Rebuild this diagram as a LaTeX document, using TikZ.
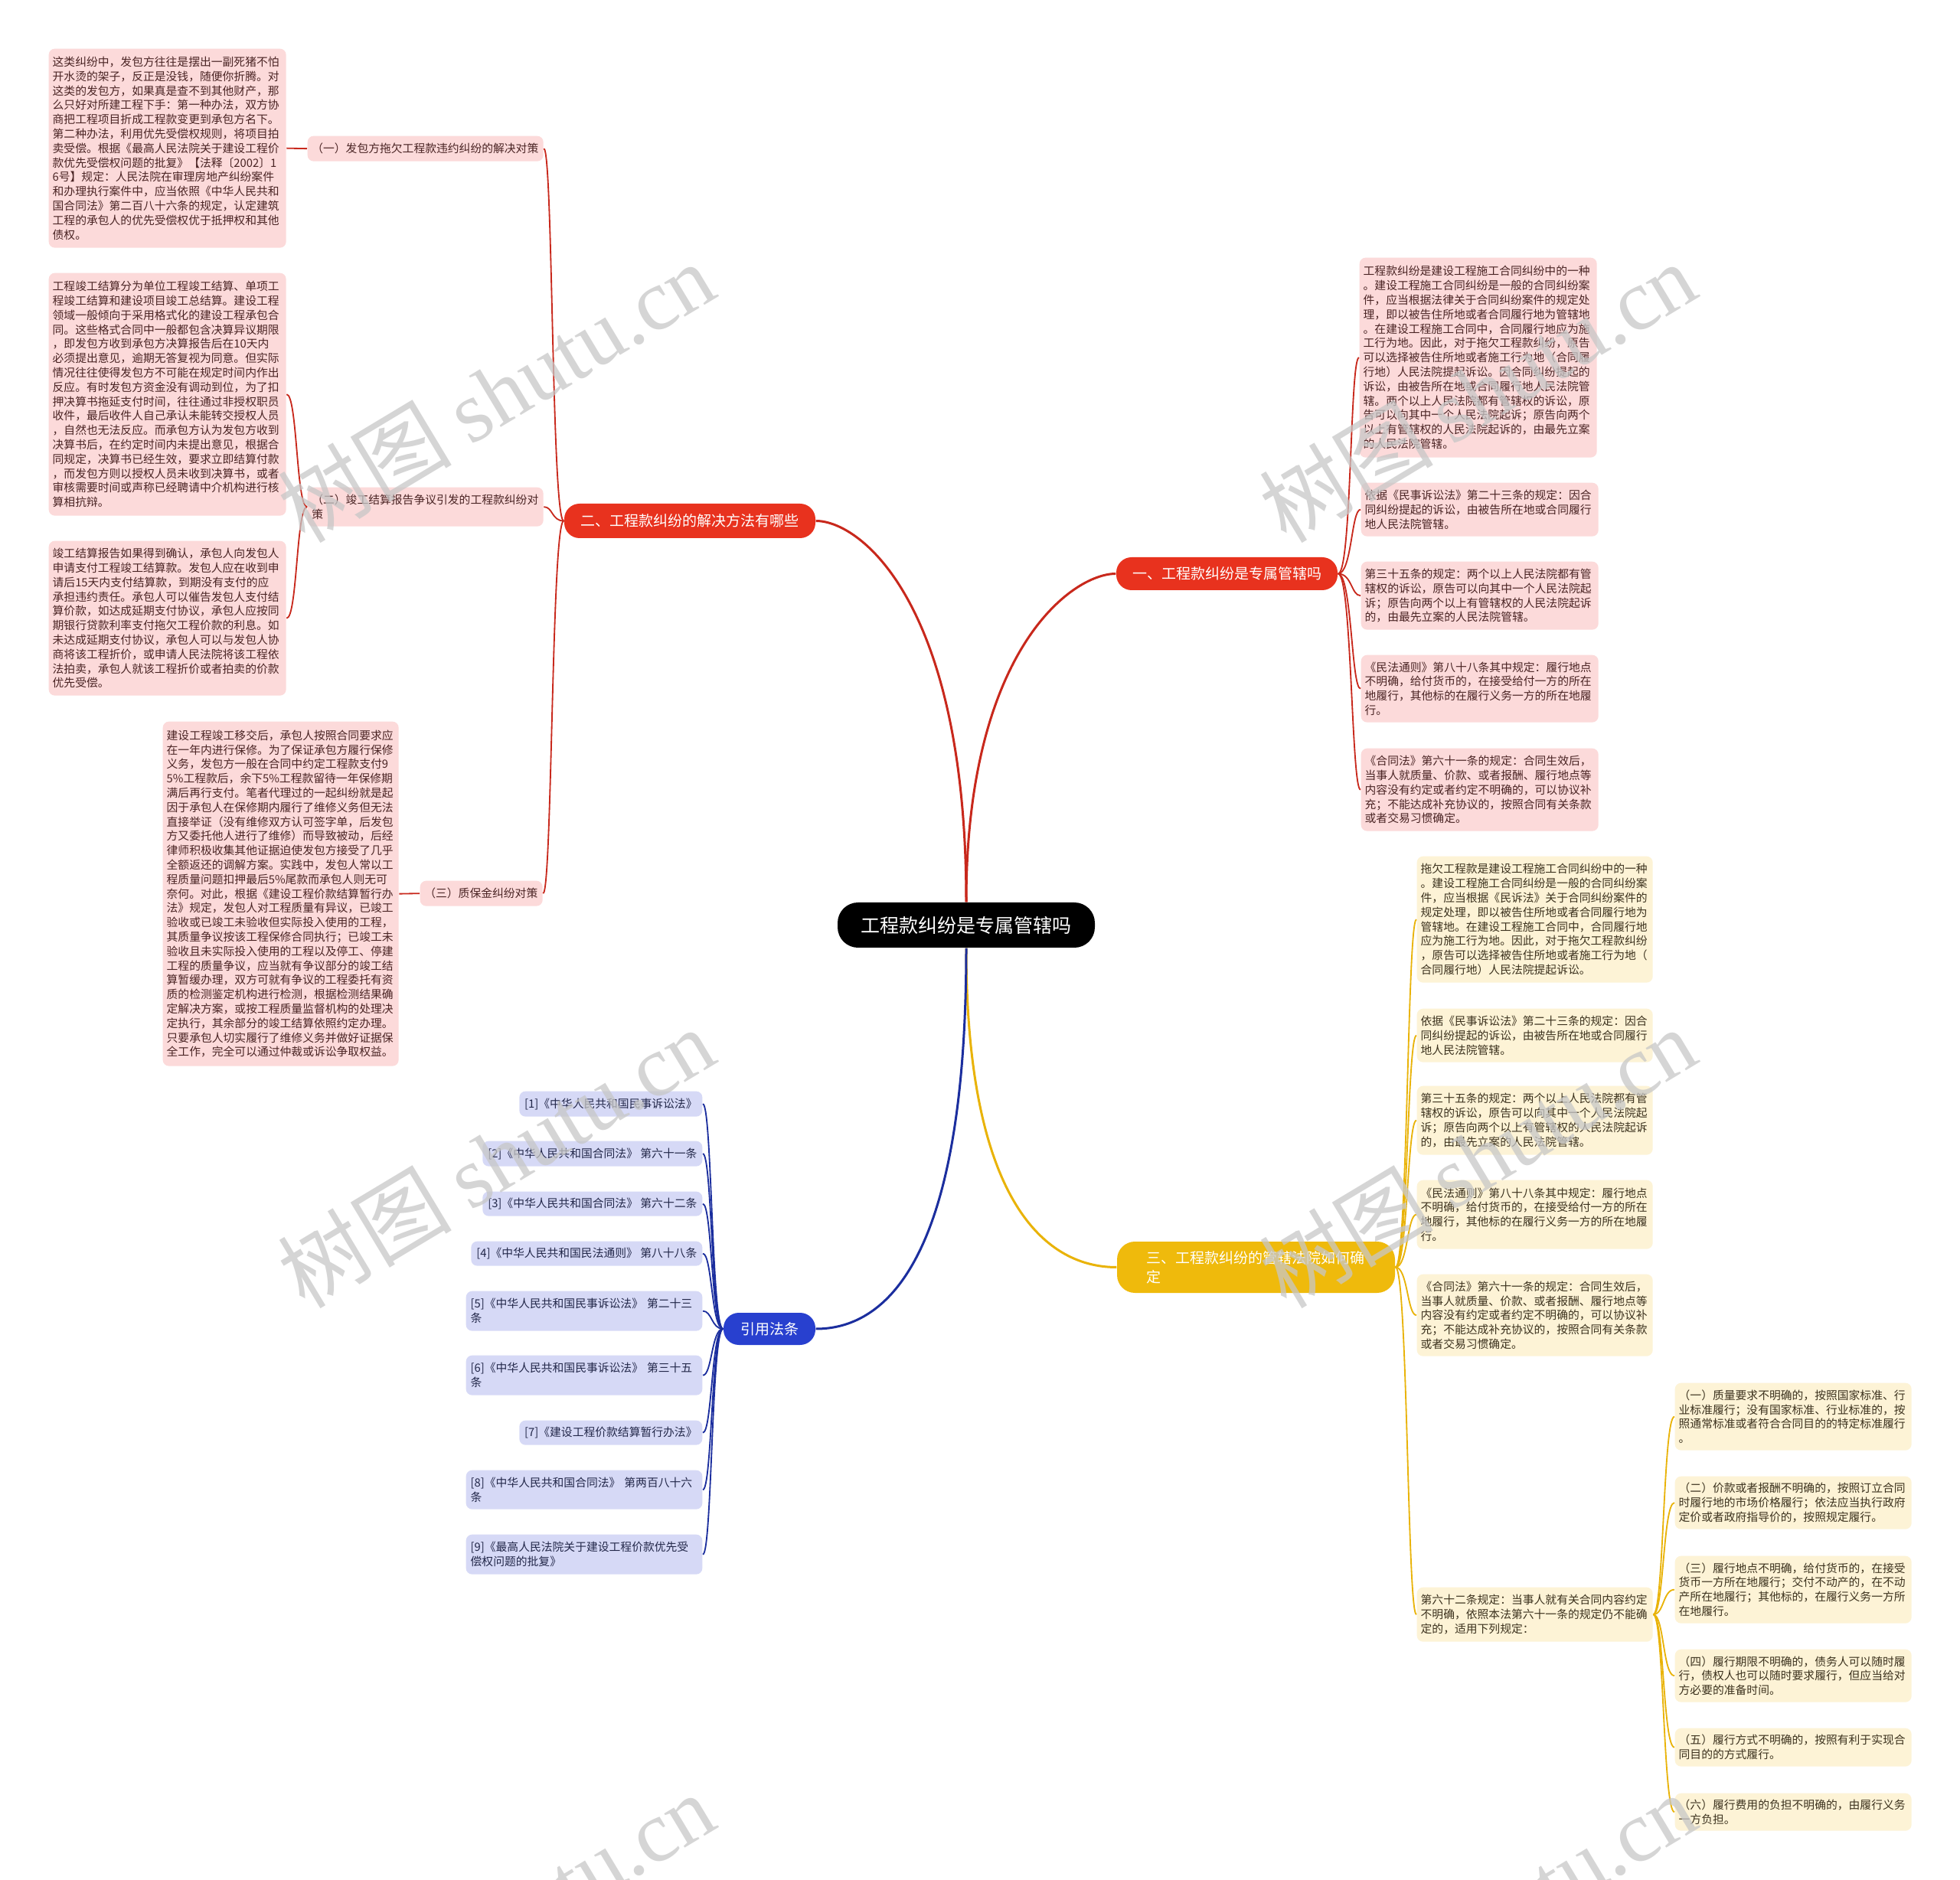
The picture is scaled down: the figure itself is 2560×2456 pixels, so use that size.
\documentclass[tikz,border=0pt]{standalone}
\usepackage{fontspec}
\setmainfont{Noto Sans CJK SC}
\newfontfamily\wmlat{Liberation Serif}
\definecolor{redline}{HTML}{C8281C}
\definecolor{redfill}{HTML}{E8321E}
\definecolor{pinkfill}{HTML}{FCDADA}
\definecolor{pinktext}{HTML}{4A2424}
\definecolor{yelline}{HTML}{E9B308}
\definecolor{yelfill}{HTML}{EFBA0C}
\definecolor{creamfill}{HTML}{FDF3D6}
\definecolor{creamtext}{HTML}{3C321E}
\definecolor{blueline}{HTML}{1B2E9E}
\definecolor{bluefill}{HTML}{2840CF}
\definecolor{lavfill}{HTML}{D6D9F6}
\definecolor{lavtext}{HTML}{23284A}
\newcommand\leaffont{\fontsize{4.44pt}{5.64pt}\selectfont}
\newcommand{\mytxtb}{依据《民事诉讼法》第二十三条的规定：因合\\同纠纷提起的诉讼，由被告所在地或合同履行\\地人民法院管辖。}
\newcommand{\mytxtc}{第三十五条的规定：两个以上人民法院都有管\\辖权的诉讼，原告可以向其中一个人民法院起\\诉；原告向两个以上有管辖权的人民法院起诉\\的，由最先立案的人民法院管辖。}
\newcommand{\mytxtd}{《民法通则》第八十八条其中规定：履行地点\\不明确，给付货币的，在接受给付一方的所在\\地履行，其他标的在履行义务一方的所在地履\\行。}
\newcommand{\mytxte}{《合同法》第六十一条的规定：合同生效后，\\当事人就质量、价款、或者报酬、履行地点等\\内容没有约定或者约定不明确的，可以协议补\\充；不能达成补充协议的，按照合同有关条款\\或者交易习惯确定。}
\tikzset{
  leaf/.style={rounded corners=2.4pt, text width=90pt, inner xsep=1.5pt, inner ysep=0pt, align=left, font=\leaffont, anchor=north west},
  pinkleaf/.style={leaf, fill=pinkfill, text=pinktext},
  creamleaf/.style={leaf, fill=creamfill, text=creamtext},
  refleaf/.style={rounded corners=2.4pt, inner xsep=1.8pt, inner ysep=0pt, font=\leaffont, anchor=north east, fill=lavfill, text=lavtext},
  branchnode/.style={text=white, inner sep=0pt, font=\fontsize{5.7pt}{7.35pt}\selectfont},
  redmain/.style={draw=redline, line width=0.9pt},
  yelmain/.style={draw=yelline, line width=0.9pt},
  bluemain/.style={draw=blueline, line width=0.9pt},
  redthin/.style={draw=redline, line width=0.55pt},
  yelthin/.style={draw=yelline, line width=0.55pt},
  bluethin/.style={draw=blueline, line width=0.55pt},
  wmark/.style={rotate=31, text=black!22, opacity=0.75, font=\fontsize{34pt}{34pt}\selectfont}
}
\begin{document}
\begin{tikzpicture}[x=0.3pt,y=-0.3pt]
\useasboundingbox (0,0) rectangle (2560,2456);
\fill[white] (0,0) rectangle (2560,2456);

% center
\node[fill=black, text=white, rounded corners=8pt, minimum width=100.8pt, minimum height=17.7pt, inner sep=0pt, font=\fontsize{7.5pt}{9pt}\selectfont] (c) at (1262,1208.5) {工程款纠纷是专属管辖吗};

% branches
\node[branchnode, fill=redfill, rounded corners=6pt, minimum width=86.7pt, minimum height=12.9pt] (b1) at (1602.5,749.5) {一、工程款纠纷是专属管辖吗};
\node[branchnode, fill=redfill, rounded corners=6pt, minimum width=98.4pt, minimum height=13.5pt] (b2) at (901,680.5) {二、工程款纠纷的解决方法有哪些};
\node[branchnode, fill=yelfill, rounded corners=7pt, minimum width=108.9pt, minimum height=20.1pt, text width=86pt, align=left] (b3) at (1640.5,1655.5) {三、工程款纠纷的管辖法院如何确\\定};
\node[branchnode, fill=bluefill, rounded corners=6pt, minimum width=36pt, minimum height=12.6pt] (b4) at (1005,1736) {引用法条};

% branch 1 leaves
\node[pinkleaf, minimum height=78.3pt] (l1a) at (1775,336) {工程款纠纷是建设工程施工合同纠纷中的一种\\。建设工程施工合同纠纷是一般的合同纠纷案\\件，应当根据法律关于合同纠纷案件的规定处\\理，即以被告住所地或者合同履行地为管辖地\\。在建设工程施工合同中，合同履行地应为施\\工行为地。因此，对于拖欠工程款纠纷，原告\\可以选择被告住所地或者施工行为地（合同履\\行地）人民法院提起诉讼。因合同纠纷提起的\\诉讼，由被告所在地或合同履行地人民法院管\\辖。两个以上人民法院都有管辖权的诉讼，原\\告可以向其中一个人民法院起诉；原告向两个\\以上有管辖权的人民法院起诉的，由最先立案\\的人民法院管辖。};
\node[pinkleaf, minimum height=21pt] (l1b) at (1777,630) {\mytxtb};
\node[pinkleaf, minimum height=26.7pt] (l1c) at (1777,733) {\mytxtc};
\node[pinkleaf, minimum height=26.4pt] (l1d) at (1777,855) {\mytxtd};
\node[pinkleaf, minimum height=32.4pt] (l1e) at (1777,977) {\mytxte};

% branch 2 subtopics
\node[pinkleaf, text width=89pt, inner xsep=1.7pt, minimum height=9.9pt] (s1) at (401,177) {（一）发包方拖欠工程款违约纠纷的解决对策};
\node[pinkleaf, text width=89pt, inner xsep=1.7pt, minimum height=15.3pt] (s2) at (401,636) {（二）竣工结算报告争议引发的工程款纠纷对\\策};
\node[pinkleaf, text width=44.6pt, inner xsep=1.7pt, minimum height=9.9pt] (s3) at (548,1150) {（三）质保金纠纷对策};

% branch 2 leaves
\node[pinkleaf, minimum height=78pt] (la) at (63,63) {这类纠纷中，发包方往往是摆出一副死猪不怕\\开水烫的架子，反正是没钱，随便你折腾。对\\这类的发包方，如果真是查不到其他财产，那\\么只好对所建工程下手：第一种办法，双方协\\商把工程项目折成工程款变更到承包方名下。\\第二种办法，利用优先受偿权规则，将项目拍\\卖受偿。根据《最高人民法院关于建设工程价\\款优先受偿权问题的批复》【法释〔2002〕1\\6号】规定：人民法院在审理房地产纠纷案件\\和办理执行案件中，应当依照《中华人民共和\\国合同法》第二百八十六条的规定，认定建筑\\工程的承包人的优先受偿权优于抵押权和其他\\债权。};
\node[pinkleaf, minimum height=95.1pt] (lb1) at (63,356) {工程竣工结算分为单位工程竣工结算、单项工\\程竣工结算和建设项目竣工总结算。建设工程\\领域一般倾向于采用格式化的建设工程承包合\\同。这些格式合同中一般都包含决算异议期限\\，即发包方收到承包方决算报告后在10天内\\必须提出意见，逾期无答复视为同意。但实际\\情况往往使得发包方不可能在规定时间内作出\\反应。有时发包方资金没有调动到位，为了扣\\押决算书拖延支付时间，往往通过非授权职员\\收件，最后收件人自己承认未能转交授权人员\\，自然也无法反应。而承包方认为发包方收到\\决算书后，在约定时间内未提出意见，根据合\\同规定，决算书已经生效，要求立即结算付款\\，而发包方则以授权人员未收到决算书，或者\\审核需要时间或声称已经聘请中介机构进行核\\算相抗辩。};
\node[pinkleaf, minimum height=60.6pt] (lb2) at (63,706) {竣工结算报告如果得到确认，承包人向发包人\\申请支付工程竣工结算款。发包人应在收到申\\请后15天内支付结算款，到期没有支付的应\\承担违约责任。承包人可以催告发包人支付结\\算价款，如达成延期支付协议，承包人应按同\\期银行贷款利率支付拖欠工程价款的利息。如\\未达成延期支付协议，承包人可以与发包人协\\商将该工程折价，或申请人民法院将该工程依\\法拍卖，承包人就该工程折价或者拍卖的价款\\优先受偿。};
\node[pinkleaf, text width=89.4pt, minimum height=135pt] (lc) at (212,942) {建设工程竣工移交后，承包人按照合同要求应\\在一年内进行保修。为了保证承包方履行保修\\义务，发包方一般在合同中约定工程款支付9\\5\%工程款后，余下5\%工程款留待一年保修期\\满后再行支付。笔者代理过的一起纠纷就是起\\因于承包人在保修期内履行了维修义务但无法\\直接举证（没有维修双方认可签字单，后发包\\方又委托他人进行了维修）而导致被动，后经\\律师积极收集其他证据迫使发包方接受了几乎\\全额返还的调解方案。实践中，发包人常以工\\程质量问题扣押最后5\%尾款而承包人则无可\\奈何。对此，根据《建设工程价款结算暂行办\\法》规定，发包人对工程质量有异议，已竣工\\验收或已竣工未验收但实际投入使用的工程，\\其质量争议按该工程保修合同执行；已竣工未\\验收且未实际投入使用的工程以及停工、停建\\工程的质量争议，应当就有争议部分的竣工结\\算暂缓办理，双方可就有争议的工程委托有资\\质的检测鉴定机构进行检测，根据检测结果确\\定解决方案，或按工程质量监督机构的处理决\\定执行，其余部分的竣工结算依照约定办理。\\只要承包人切实履行了维修义务并做好证据保\\全工作，完全可以通过仲裁或诉讼争取权益。};

% branch 3 leaves
\node[creamleaf, text width=89.4pt, minimum height=49.5pt] (l3a) at (1850,1118) {拖欠工程款是建设工程施工合同纠纷中的一种\\。建设工程施工合同纠纷是一般的合同纠纷案\\件，应当根据《民诉法》关于合同纠纷案件的\\规定处理，即以被告住所地或者合同履行地为\\管辖地。在建设工程施工合同中，合同履行地\\应为施工行为地。因此，对于拖欠工程款纠纷\\，原告可以选择被告住所地或者施工行为地（\\合同履行地）人民法院提起诉讼。};
\node[creamleaf, text width=89.4pt, minimum height=21pt] (l3b) at (1850,1317) {\mytxtb};
\node[creamleaf, text width=89.4pt, minimum height=27pt] (l3c) at (1850,1418) {\mytxtc};
\node[creamleaf, text width=89.4pt, minimum height=27pt] (l3d) at (1850,1541) {\mytxtd};
\node[creamleaf, text width=89.4pt, minimum height=32.1pt] (l3e) at (1850,1664) {\mytxte};
\node[creamleaf, text width=89.4pt, minimum height=21.3pt] (l3f) at (1850,2073) {第六十二条规定：当事人就有关合同内容约定\\不明确，依照本法第六十一条的规定仍不能确\\定的，适用下列规定：};

\node[creamleaf, text width=89.7pt, minimum height=26.4pt] (l4a) at (2187,1806) {（一）质量要求不明确的，按照国家标准、行\\业标准履行；没有国家标准、行业标准的，按\\照通常标准或者符合合同目的的特定标准履行\\。};
\node[creamleaf, text width=89.7pt, minimum height=20.7pt] (l4b) at (2187,1928) {（二）价款或者报酬不明确的，按照订立合同\\时履行地的市场价格履行；依法应当执行政府\\定价或者政府指导价的，按照规定履行。};
\node[creamleaf, text width=89.7pt, minimum height=26.4pt] (l4c) at (2187,2032) {（三）履行地点不明确，给付货币的，在接受\\货币一方所在地履行；交付不动产的，在不动\\产所在地履行；其他标的，在履行义务一方所\\在地履行。};
\node[creamleaf, text width=89.7pt, minimum height=20.7pt] (l4d) at (2187,2154) {（四）履行期限不明确的，债务人可以随时履\\行，债权人也可以随时要求履行，但应当给对\\方必要的准备时间。};
\node[creamleaf, text width=89.7pt, minimum height=15pt] (l4e) at (2187,2257) {（五）履行方式不明确的，按照有利于实现合\\同目的的方式履行。};
\node[creamleaf, text width=89.7pt, minimum height=14.7pt] (l4f) at (2187,2342) {（六）履行费用的负担不明确的，由履行义务\\一方负担。};

% references
\node[refleaf, minimum width=71.7pt, minimum height=9.9pt] (r1) at (918,1425) {[1]《中华人民共和国民事诉讼法》};
\node[refleaf, minimum width=86.1pt, minimum height=9.9pt] (r2) at (918,1490) {[2]《中华人民共和国合同法》 第六十一条};
\node[refleaf, minimum width=86.1pt, minimum height=9.6pt] (r3) at (918,1556) {[3]《中华人民共和国合同法》 第六十二条};
\node[refleaf, minimum width=90.6pt, minimum height=9.6pt] (r4) at (918,1621) {[4]《中华人民共和国民法通则》 第八十八条};
\node[refleaf, text width=89pt, align=left, minimum height=15.6pt] (r5) at (918,1686) {[5]《中华人民共和国民事诉讼法》 第二十三\\条};
\node[refleaf, text width=89pt, align=left, minimum height=15.6pt] (r6) at (918,1770) {[6]《中华人民共和国民事诉讼法》 第三十五\\条};
\node[refleaf, minimum width=71.7pt, minimum height=9.6pt] (r7) at (918,1855) {[7]《建设工程价款结算暂行办法》};
\node[refleaf, text width=89pt, align=left, minimum height=15.3pt] (r8) at (918,1920) {[8]《中华人民共和国合同法》 第两百八十六\\条};
\node[refleaf, text width=89pt, align=left, minimum height=15.6pt] (r9) at (918,2004) {[9]《最高人民法院关于建设工程价款优先受\\偿权问题的批复》};

% main connectors
\draw[redmain] (c.north) .. controls (1262,850) and (1400,749.5) .. (b1.west);
\draw[redmain] (c.north) .. controls (1262,790) and (1125,680.5) .. (b2.east);
\draw[yelmain] (c.south) .. controls (1262,1560) and (1360,1655.5) .. (b3.west);
\draw[bluemain] (c.south) .. controls (1262,1660) and (1150,1736) .. (b4.east);

% child connectors
\foreach \n in {l1a,l1b,l1c,l1d,l1e}
  \draw[redthin] (b1.east) .. controls +(18,0) and +(-12,0) .. (\n.west);
\foreach \n in {s1,s2,s3}
  \draw[redthin] (b2.west) .. controls +(-16,0) and +(12,0) .. (\n.east);
\draw[redthin] (s1.west) -- (la.east);
\foreach \n in {lb1,lb2}
  \draw[redthin] (s2.west) .. controls +(-14,0) and +(14,0) .. (\n.east);
\draw[redthin] (s3.west) -- (lc.east);
\foreach \n in {l3a,l3b,l3c,l3d,l3e,l3f}
  \draw[yelthin] (b3.east) .. controls +(16,0) and +(-12,0) .. (\n.west);
\foreach \n in {l4a,l4b,l4c,l4d,l4e,l4f}
  \draw[yelthin] (l3f.east) .. controls +(14,0) and +(-15,0) .. (\n.west);
\foreach \n in {r1,r2,r3,r4,r5,r6,r7,r8,r9}
  \draw[bluethin] (b4.west) .. controls +(-15,0) and +(12,0) .. (\n.east);

% watermarks
\begin{scope}
\clip (0,0) rectangle (2560,2456);
\node[wmark] (w1) at (648,512) {树图 {\wmlat shutu.cn}};
\node[wmark] (w2) at (1930,512) {树图 {\wmlat shutu.cn}};
\node[wmark] (w3) at (648,1512) {树图 {\wmlat shutu.cn}};
\node[wmark] (w4) at (1930,1512) {树图 {\wmlat shutu.cn}};
\node[wmark] (w5) at (648,2512) {树图 {\wmlat shutu.cn}};
\node[wmark] (w6) at (1930,2512) {树图 {\wmlat shutu.cn}};
\end{scope}
\end{tikzpicture}
\end{document}
